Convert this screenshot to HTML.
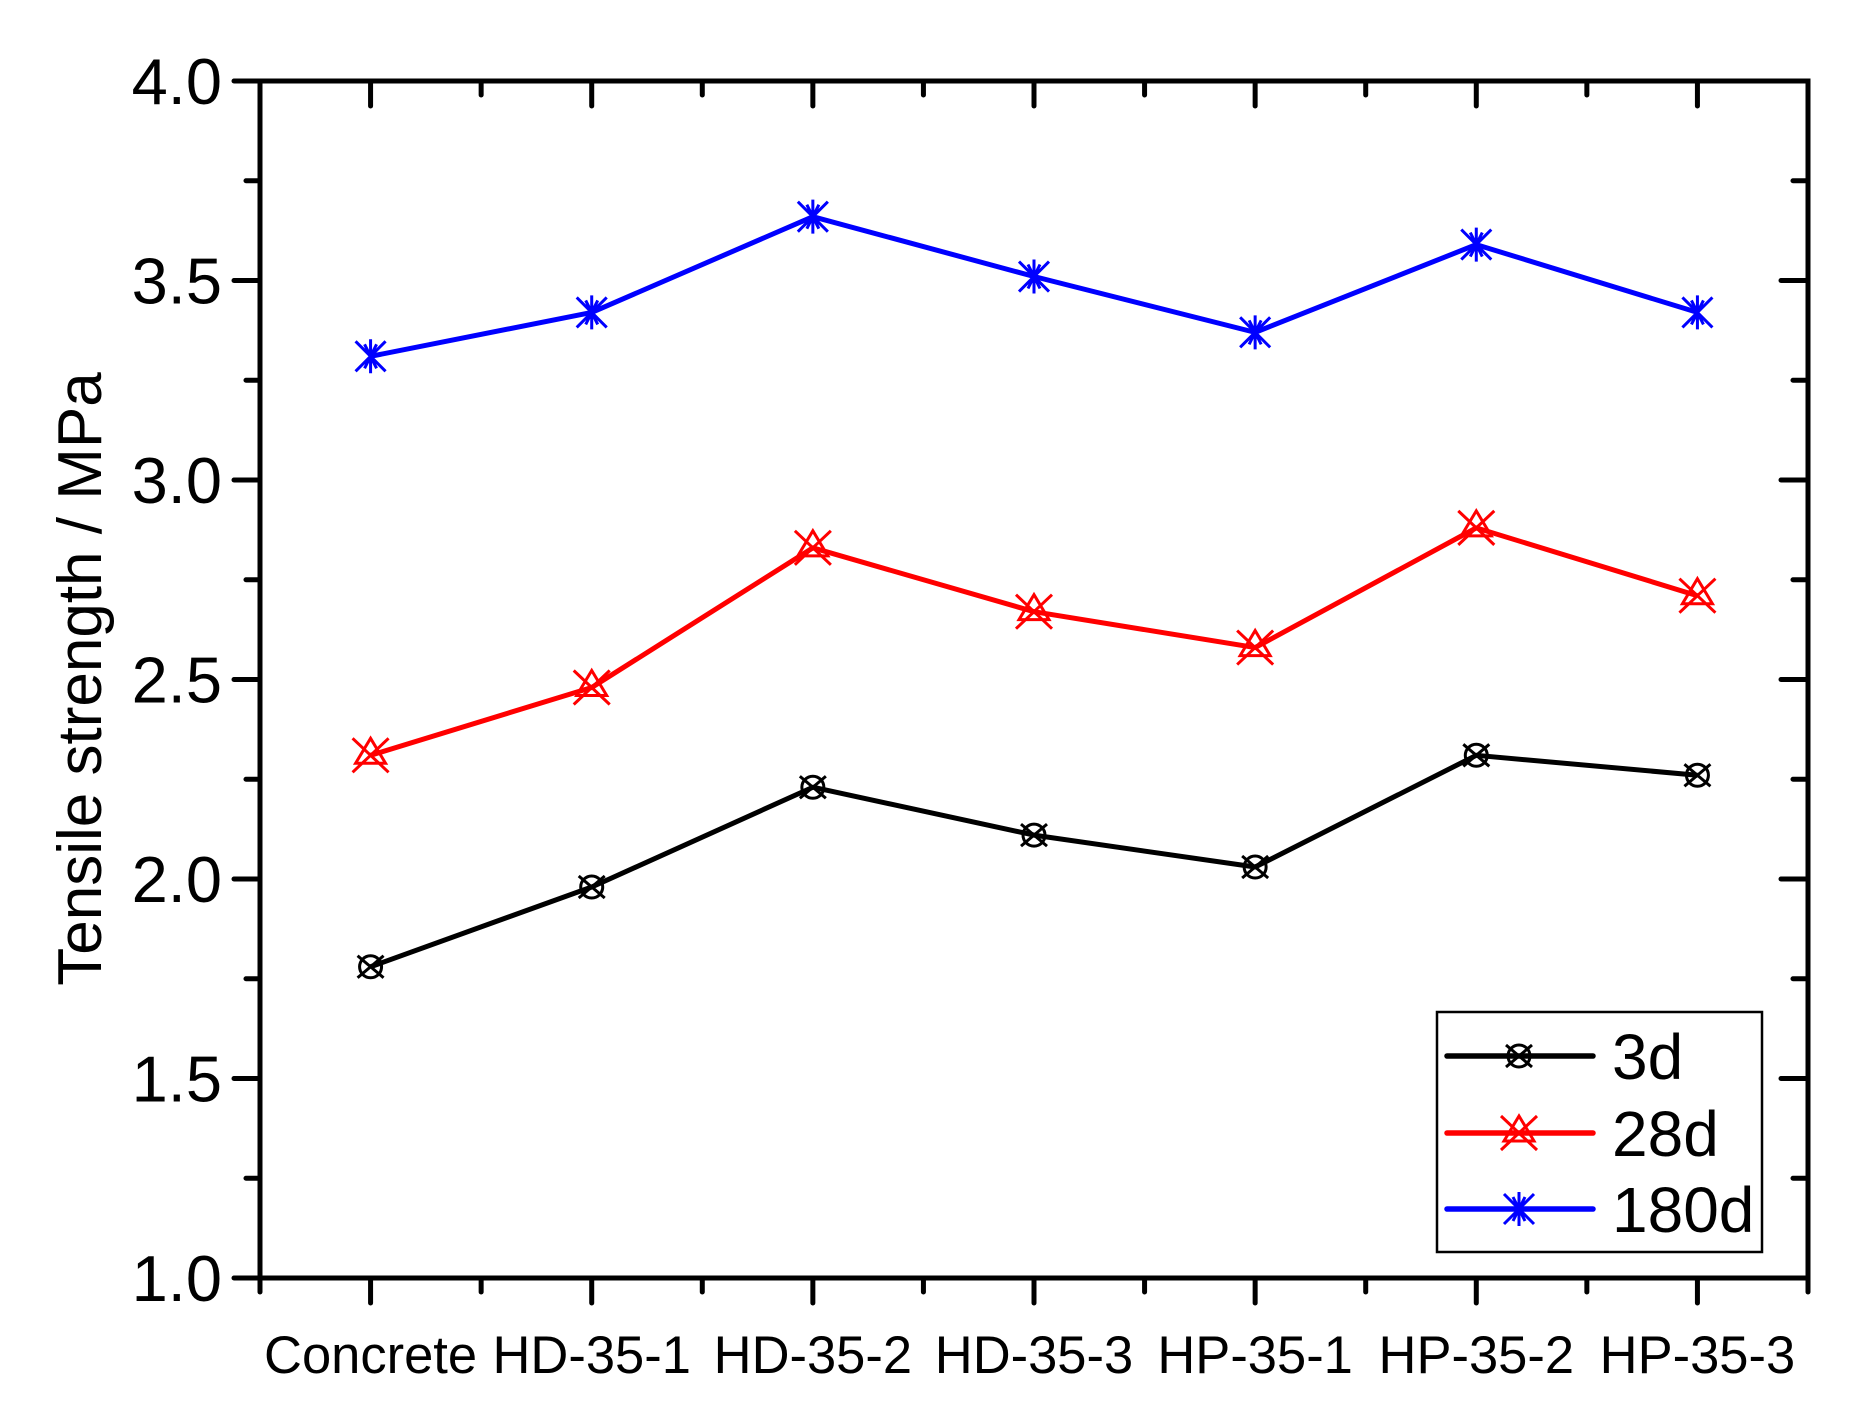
<!DOCTYPE html>
<html><head><meta charset="utf-8"><style>
html,body{margin:0;padding:0;background:#fff;}
svg{display:block;font-family:"Liberation Sans",Arial,sans-serif;}
</style></head><body>
<svg id="chart" width="1870" height="1417" viewBox="0 0 1870 1417"></svg>
<script>
const categories = ["Concrete","HD-35-1","HD-35-2","HD-35-3","HP-35-1","HP-35-2","HP-35-3"];
const series3d = [1.78,1.98,2.23,2.11,2.03,2.31,2.26];
const series28d = [2.31,2.48,2.83,2.67,2.58,2.88,2.71];
const series180d = [3.31,3.42,3.66,3.51,3.37,3.59,3.42];
const yTicks = [1.0,1.5,2.0,2.5,3.0,3.5,4.0];
const seriesNames = ["3d","28d","180d"];

const NS="http://www.w3.org/2000/svg";
const svg=document.getElementById('chart');
const L=260,R=1808,T=81,B=1278;
const yMin=1,yMax=4;
function yS(v){return B-(v-yMin)/(yMax-yMin)*(B-T);}
function xS(i){return L+(i+0.5)*(R-L)/categories.length;}
function mk(tag,attrs,parent){const e=document.createElementNS(NS,tag);for(const k in attrs)e.setAttribute(k,attrs[k]);(parent||svg).appendChild(e);return e;}

const tg=mk('g',{stroke:'#000','stroke-width':5,'stroke-linecap':'round'});


yTicks.forEach((v,i)=>{
  const y=yS(v);
  mk('line',{x1:L-26,y1:y,x2:L,y2:y},tg);
  mk('line',{x1:R-27,y1:y,x2:R,y2:y},tg);
  if(i<yTicks.length-1){const ym=yS(v+0.25);
    mk('line',{x1:L-14,y1:ym,x2:L,y2:ym},tg);
    mk('line',{x1:R-15,y1:ym,x2:R,y2:ym},tg);}
  const t=mk('text',{x:L-38,y:y+23,'text-anchor':'end','font-size':65,fill:'#000'});
  t.textContent=v.toFixed(1);
  
  
});
for(let i=0;i<=categories.length;i++){
  const xm=L+i*(R-L)/categories.length;
  mk('line',{x1:xm,y1:B,x2:xm,y2:B+14},tg);
  mk('line',{x1:xm,y1:T,x2:xm,y2:T+14},tg);
}
categories.forEach((c,i)=>{
  const x=xS(i);
  mk('line',{x1:x,y1:B,x2:x,y2:B+25},tg);
  mk('line',{x1:x,y1:T,x2:x,y2:T+25},tg);
  const t=mk('text',{x:x,y:B+95,'text-anchor':'middle','font-size':52.5,fill:'#000'});
  t.textContent=c;
  
  
});
const frame=mk('rect',{x:L,y:T,width:R-L,height:B-T,fill:'none',stroke:'#000','stroke-width':5});



const yt=mk('text',{x:0,y:0,'text-anchor':'middle','font-size':62,fill:'#000',transform:'translate(101,679) rotate(-90)'});
yt.textContent='Tensile strength / MPa';



function marker(type,x,y,color,g){
  const r=13;
  if(type===0){
    mk('circle',{cx:x,cy:y,r:r-2,fill:'none',stroke:color,'stroke-width':3},g);
    mk('path',{d:`M${x-r} ${y-r+2}L${x+r} ${y+r-2}M${x-r} ${y+r-2}L${x+r} ${y-r+2}`,stroke:color,'stroke-width':3,fill:'none'},g);
  }else if(type===1){
    mk('path',{d:`M${x-18} ${y-17}L${x+18} ${y+17}M${x-18} ${y+17}L${x+18} ${y-17}M${x} ${y-17}L${x+15} ${y+8}L${x-15} ${y+8}Z`,stroke:color,'stroke-width':3,fill:'none'},g);
  }else{
    mk('path',{d:`M${x-15} ${y-15}L${x+15} ${y+15}M${x-15} ${y+15}L${x+15} ${y-15}M${x} ${y-17}L${x} ${y+17}M${x-6} ${y-12}L${x+6} ${y+12}M${x+6} ${y-12}L${x-6} ${y+12}`,stroke:color,'stroke-width':3,fill:'none'},g);
  }
}
const allSeries=[series3d,series28d,series180d];
const colors=['#000','#ff0000','#0000ff'];
allSeries.forEach((s,k)=>{
  const g=mk('g',{});
  
  
  const pts=s.map((v,i)=>xS(i)+','+yS(v)).join(' ');
  mk('polyline',{points:pts,fill:'none',stroke:colors[k],'stroke-width':5,'stroke-linejoin':'round'},g);
  s.forEach((v,i)=>marker(k,xS(i),yS(v),colors[k],g));
});

const lg=mk('g',{});


mk('rect',{x:1437,y:1012,width:325,height:240,fill:'#fff',stroke:'#000','stroke-width':2.5},lg);
const ly=[1056,1133,1209];
seriesNames.forEach((n,k)=>{
  const e=mk('g',{},lg);
  
  
  mk('line',{x1:1447,y1:ly[k],x2:1593,y2:ly[k],stroke:colors[k],'stroke-width':5.5,'stroke-linecap':'round'},e);
  marker(k,1519,ly[k],colors[k],e);
  const t=mk('text',{x:1612,y:ly[k]+23,'font-size':64,fill:'#000'},e);
  t.textContent=n;
});
</script>
</body></html>
